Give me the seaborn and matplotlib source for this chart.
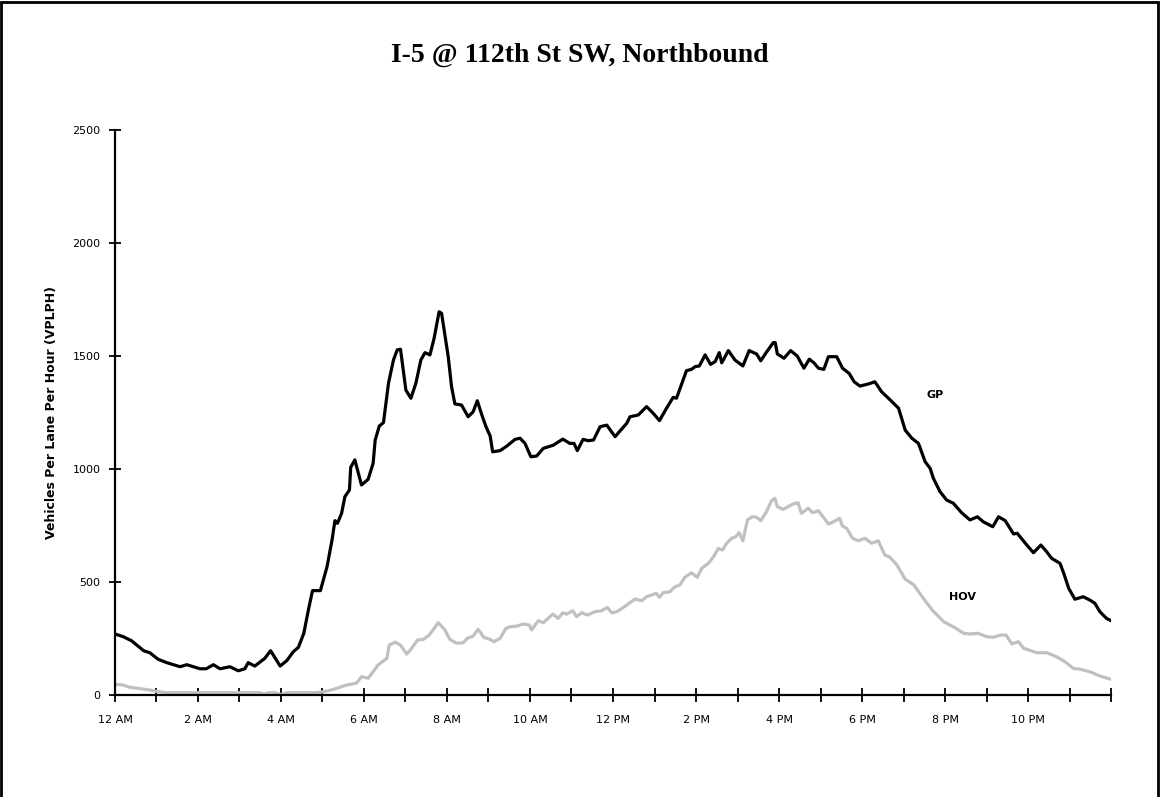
import pandas as pd
import seaborn as sns
import matplotlib.pyplot as plt
from matplotlib.ticker import MultipleLocator, FixedLocator

# time of day in hours (0 = 12 AM) and vehicles per lane per hour
gp_hours = [0.0, 0.2, 0.4, 0.69, 0.84, 1.04, 1.25, 1.57, 1.73, 2.05, 2.2, 2.37, 2.53, 2.77, 2.97,
            3.13, 3.21, 3.37, 3.61, 3.75, 3.98, 4.14, 4.3, 4.42, 4.55, 4.66, 4.76, 4.95, 5.11, 5.23,
            5.3, 5.36, 5.46, 5.54, 5.65, 5.68, 5.78, 5.94, 6.1, 6.22, 6.27, 6.37, 6.47, 6.59, 6.71,
            6.8, 6.88, 7.01, 7.13, 7.25, 7.37, 7.47, 7.59, 7.69, 7.81, 7.87, 8.03, 8.11, 8.19, 8.35,
            8.51, 8.63, 8.73, 8.84, 8.94, 9.04, 9.1, 9.28, 9.44, 9.64, 9.76, 9.88, 10.02, 10.16, 10.32,
            10.56, 10.79, 10.96, 11.06, 11.14, 11.28, 11.4, 11.53, 11.69, 11.85, 12.05, 12.33, 12.41,
            12.61, 12.81, 12.97, 13.12, 13.29, 13.45, 13.53, 13.66, 13.77, 13.89, 13.98, 14.08, 14.22,
            14.35, 14.46, 14.56, 14.62, 14.78, 14.94, 15.13, 15.28, 15.46, 15.56, 15.69, 15.86, 15.91,
            15.96, 16.12, 16.28, 16.44, 16.6, 16.73, 16.84, 16.95, 17.08, 17.19, 17.39, 17.53, 17.69,
            17.81, 17.95, 18.15, 18.31, 18.47, 18.67, 18.88, 19.04, 19.2, 19.36, 19.52, 19.64, 19.72,
            19.88, 20.04, 20.2, 20.4, 20.6, 20.78, 20.92, 21.15, 21.29, 21.45, 21.65, 21.74, 21.97,
            22.13, 22.31, 22.45, 22.57, 22.77, 22.86, 22.98, 23.13, 23.33, 23.49, 23.61, 23.73, 23.89, 24.0]
gp_vplph = [268, 256, 238, 194, 185, 156, 141, 123, 132, 114, 114, 132, 114, 123, 105,
            114, 141, 126, 160, 194, 126, 150, 190, 209, 271, 374, 460, 460, 566, 684,
            770, 758, 802, 876, 906, 1006, 1039, 928, 953, 1024, 1127, 1189, 1204, 1378, 1481,
            1526, 1529, 1348, 1312, 1378, 1481, 1514, 1504, 1578, 1695, 1688, 1496, 1363, 1287, 1282,
            1230, 1252, 1301, 1238, 1186, 1145, 1075, 1080, 1100, 1130, 1135, 1112, 1053, 1056, 1090,
            1104, 1131, 1112, 1112, 1080, 1130, 1124, 1127, 1186, 1193, 1142, 1201, 1230,
            1238, 1275, 1245, 1213, 1268, 1316, 1312, 1378, 1434, 1440, 1452, 1455, 1504,
            1462, 1474, 1514, 1469, 1523, 1481, 1455, 1523, 1508, 1478, 1514, 1558, 1558,
            1508, 1489, 1523, 1499, 1445, 1485, 1469, 1445, 1440, 1496, 1496, 1445, 1422,
            1385, 1366, 1375, 1385, 1341, 1306, 1268, 1171, 1135, 1112, 1031, 1002, 957,
            898, 861, 847, 805, 773, 787, 765, 743, 787, 770, 711, 714, 662,
            628, 662, 632, 603, 581, 537, 470, 422, 433, 418, 404, 367, 337, 327]

hov_hours = [0.0, 0.2, 0.36, 0.6, 0.84, 1.0, 1.24, 2.0, 3.0, 3.5, 3.6, 3.7, 3.85, 4.0, 4.14, 4.86,
             5.1, 5.27, 5.58, 5.82, 5.94, 6.1, 6.22, 6.34, 6.55, 6.61, 6.75, 6.88, 7.03, 7.15, 7.29,
             7.43, 7.57, 7.79, 7.95, 8.07, 8.23, 8.39, 8.49, 8.63, 8.75, 8.89, 9.04, 9.13, 9.28, 9.42,
             9.52, 9.68, 9.84, 9.98, 10.04, 10.2, 10.32, 10.55, 10.68, 10.79, 10.88, 11.03, 11.12,
             11.25, 11.38, 11.57, 11.73, 11.86, 11.97, 12.1, 12.33, 12.53, 12.69, 12.81, 13.04, 13.12,
             13.21, 13.37, 13.49, 13.61, 13.73, 13.89, 14.03, 14.14, 14.3, 14.42, 14.54, 14.64, 14.74,
             14.86, 14.96, 15.04, 15.13, 15.24, 15.35, 15.46, 15.56, 15.7, 15.82, 15.9, 15.96, 16.1,
             16.22, 16.34, 16.46, 16.54, 16.7, 16.81, 16.95, 17.07, 17.19, 17.31, 17.46, 17.53, 17.63,
             17.77, 17.91, 18.07, 18.23, 18.39, 18.55, 18.67, 18.84, 19.04, 19.25, 19.45, 19.69, 19.97,
             20.2, 20.45, 20.6, 20.8, 21.0, 21.16, 21.33, 21.47, 21.61, 21.77, 21.89, 22.21, 22.45,
             22.69, 22.89, 23.09, 23.25, 23.49, 23.73, 24.0]
hov_vplph = [45, 42, 32, 26, 20, 14, 8, 8, 8, 8, 2, 8, 8, 0, 8, 8,
             15, 23, 42, 50, 79, 72, 101, 131, 160, 219, 232, 219, 179, 205, 241,
             244, 263, 318, 286, 244, 227, 229, 249, 259, 289, 253, 244, 234, 249, 293,
             300, 303, 312, 308, 286, 327, 318, 356, 337, 362, 356, 371, 345,
             362, 352, 367, 371, 386, 362, 367, 396, 423, 415, 433, 448, 430,
             451, 455, 477, 485, 519, 539, 519, 559, 581, 610, 647, 640, 670,
             692, 699, 717, 681, 773, 787, 785, 770, 810, 858, 869, 832, 820,
             832, 844, 849, 802, 825, 805, 814, 785, 755, 765, 780, 746, 736,
             692, 681, 692, 670, 681, 618, 608, 574, 511, 485, 433, 374, 322,
             300, 271, 268, 271, 256, 253, 263, 263, 224, 234, 205, 185, 185,
             167, 145, 116, 112, 101, 82, 67]

tick_hours = [0, 2, 4, 6, 8, 10, 12, 14, 16, 18, 20, 22]
tick_labels = ['12 AM', '2 AM', '4 AM', '6 AM', '8 AM', '10 AM', '12 PM',
               '2 PM', '4 PM', '6 PM', '8 PM', '10 PM']

gp = pd.DataFrame({'hour': gp_hours, 'vplph': gp_vplph})
hov = pd.DataFrame({'hour': hov_hours, 'vplph': hov_vplph})

sns.set_style('white')
plt.rcParams['font.family'] = ['DejaVu Sans']
plt.rcParams['text.color'] = 'black'
plt.rcParams['axes.labelcolor'] = 'black'
plt.rcParams['xtick.color'] = 'black'
plt.rcParams['ytick.color'] = 'black'

fig = plt.figure(figsize=(11.6, 7.97), dpi=100)
ax = fig.add_axes([0.0991, 0.1286, 0.8587, 0.7083])

sns.lineplot(data=hov, x='hour', y='vplph', color='#c0c0c0', linewidth=2.3, sort=False, ax=ax)
sns.lineplot(data=gp, x='hour', y='vplph', color='black', linewidth=2.3, sort=False, ax=ax)

ax.set_xlim(0, 24)
ax.set_ylim(0, 2500)

# only left and bottom axis lines, like the original
for side in ['top', 'right']:
    ax.spines[side].set_visible(False)
for side in ['left', 'bottom']:
    ax.spines[side].set_linewidth(1.6)
    ax.spines[side].set_color('black')

ax.xaxis.set_major_locator(FixedLocator(tick_hours))
ax.set_xticklabels(tick_labels)
ax.xaxis.set_minor_locator(MultipleLocator(1))
ax.yaxis.set_major_locator(MultipleLocator(500))

ax.tick_params(axis='x', which='both', direction='inout', length=10, width=1.3,
               color='black', bottom=True, labelsize=8, pad=10, labelcolor='black')
ax.tick_params(axis='y', which='major', direction='inout', length=9, width=1.3,
               color='black', left=True, labelsize=8, pad=6, labelcolor='black')

ax.set_xlabel('')
ax.set_ylabel('Vehicles Per Lane Per Hour (VPLPH)', fontsize=9, fontweight='bold',
              labelpad=10, color='black')

ax.text(19.76, 1326, 'GP', fontsize=8, fontweight='bold', ha='center', va='center', color='black')
ax.text(20.41, 432, 'HOV', fontsize=8, fontweight='bold', ha='center', va='center', color='black')

fig.text(0.5, 0.931, 'I-5 @ 112th St SW, Northbound', fontsize=20, fontweight='bold',
         family='Liberation Serif', ha='center', va='center', color='black')

# outer frame of the chart area
frame = plt.Rectangle((0.001, -0.01), 0.997, 1.008, transform=fig.transFigure,
                      fill=False, edgecolor='black', linewidth=2)
fig.patches.append(frame)

fig.savefig('out.png', dpi=100)
